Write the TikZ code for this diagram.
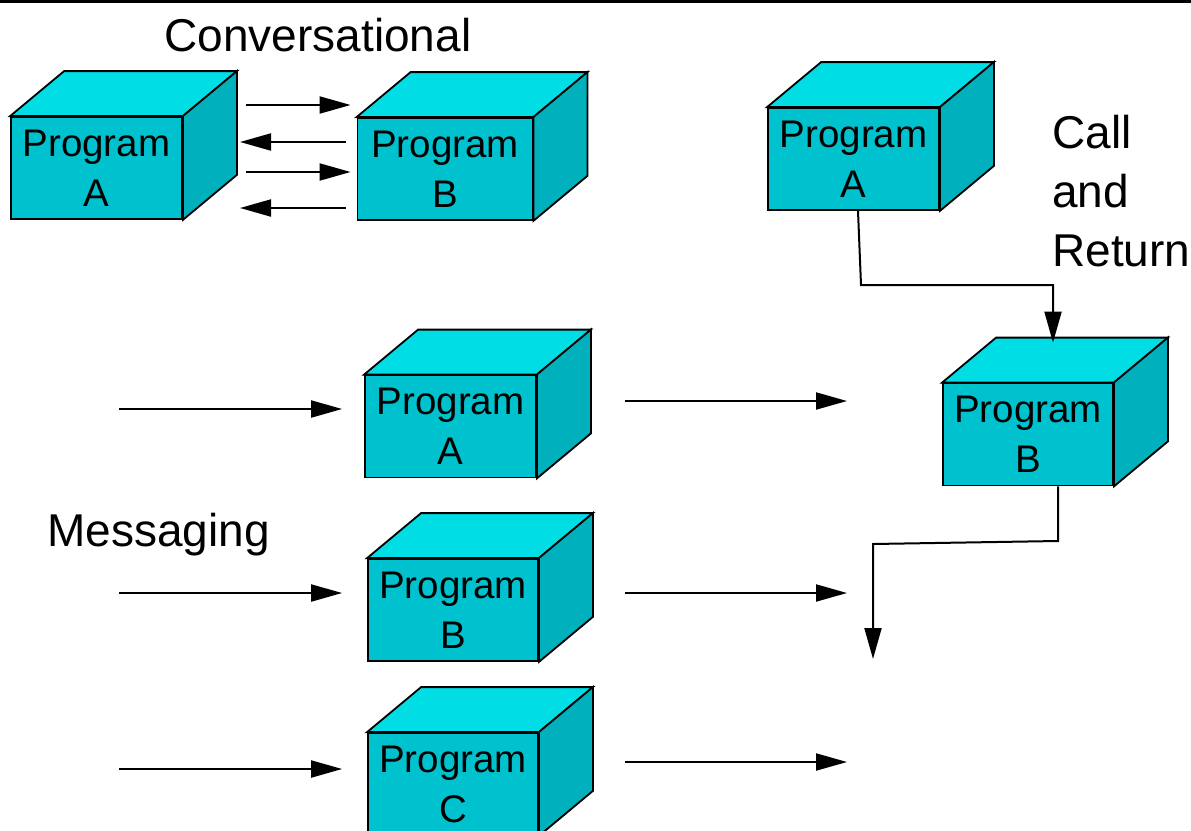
\documentclass[tikz,border=0pt]{standalone}
\usepackage{fontspec}
\setmainfont{Liberation Sans}
\usetikzlibrary{arrows.meta,calc}

\definecolor{cubetop}{RGB}{0,221,228}
\definecolor{cubefront}{RGB}{0,194,206}
\definecolor{cubeside}{RGB}{0,177,189}

\tikzset{
  pbox/.style={rectangle, draw=black, line width=1.8pt, fill=cubefront,
    minimum height=102pt, inner sep=0pt, align=center,
    font=\fontsize{38.5}{50}\selectfont},
  face/.style={draw=black, line width=1.8pt, line join=miter},
  arr/.style={draw=black, line width=2pt,
    -{Triangle[length=31pt,width=17pt]}},
  lbl/.style={inner sep=0pt, font=\fontsize{46}{59}\selectfont},
}

% cube-like program box: name, centre x, centre y, front width, text
\newcommand\progbox[5]{%
  \node[pbox, minimum width=#4pt] (#1) at (#2,#3) {#5};
  \path[face, fill=cubetop] (#1.north west) -- ++(54,-45)
    -- ($(#1.north east)+(54,-45)$) -- (#1.north east) -- cycle;
  \path[face, fill=cubeside] (#1.north east) -- ++(54,-45)
    -- ($(#1.south east)+(54,-45)$) -- (#1.south east) -- cycle;
}

\begin{document}
\begin{tikzpicture}[x=1pt, y=-1pt]
  \useasboundingbox (0,0) rectangle (1191,830);
  \fill[black] (0,0) rectangle (1191,2.5);

  % Conversational
  \node[lbl, anchor=base] (convtitle) at (318,51) {Conversational};
  \progbox{cA}{96.5}{168}{171}{Program\\A}
  \progbox{cB}{445}{169}{175}{Program\\B}
  \coordinate (c1) at (246,105);
  \coordinate (c2) at (346,142);
  \coordinate (c3) at (246,172);
  \coordinate (c4) at (346,208);
  \draw[arr, shorten >=6pt] (c1) -- (c1 -| cB.west);
  \draw[arr] (c2) -- (c2 -| 240,0);
  \draw[arr, shorten >=6pt] (c3) -- (c3 -| cB.west);
  \draw[arr] (c4) -- (c4 -| 240,0);

  % Call and Return
  \progbox{rA}{853.5}{159}{171}{Program\\A}
  \progbox{rB}{1028}{434.5}{170}{Program\\B}
  \node[lbl, anchor=base west, align=left] (crtitle) at (1052,266)
    {Call\\and\\Return};
  \coordinate (rbend) at (861,285);
  \coordinate (rtip) at ($(rB.north)+(25,-40)$);
  \draw[arr] ([xshift=4.5pt]rA.south) -- (rbend) -| (rtip);
  \coordinate (rs) at ($(rB.south)+(30,0)$);
  \coordinate (rk1) at (1058,541);
  \coordinate (rk2) at (873,544);
  \coordinate (rend) at (873,659);
  \draw[arr] (rs) -- (rk1) -- (rk2) -- (rend);

  % Messaging
  \node[lbl, anchor=base west] (msgtitle) at (47,546) {Messaging};
  \progbox{mA}{450.5}{426.5}{171}{Program\\A}
  \progbox{mB}{453}{610}{170}{Program\\B}
  \progbox{mC}{453}{784}{170}{Program\\C}
  \coordinate (mAin) at (119,409);
  \coordinate (mBin) at (119,593);
  \coordinate (mCin) at (119,769);
  \draw[arr, shorten >=22pt] (mAin) -- (mAin -| mA.west);
  \draw[arr, shorten >=25pt] (mBin) -- (mBin -| mB.west);
  \draw[arr, shorten >=25pt] (mCin) -- (mCin -| mC.west);
  \coordinate (mAout) at (847,401);
  \coordinate (mBout) at (847,593);
  \coordinate (mCout) at (847,762);
  \draw[arr, shorten <=88pt] (mAout -| mA.east) -- (mAout);
  \draw[arr, shorten <=86pt] (mBout -| mB.east) -- (mBout);
  \draw[arr, shorten <=86pt] (mCout -| mC.east) -- (mCout);
\end{tikzpicture}
\end{document}
